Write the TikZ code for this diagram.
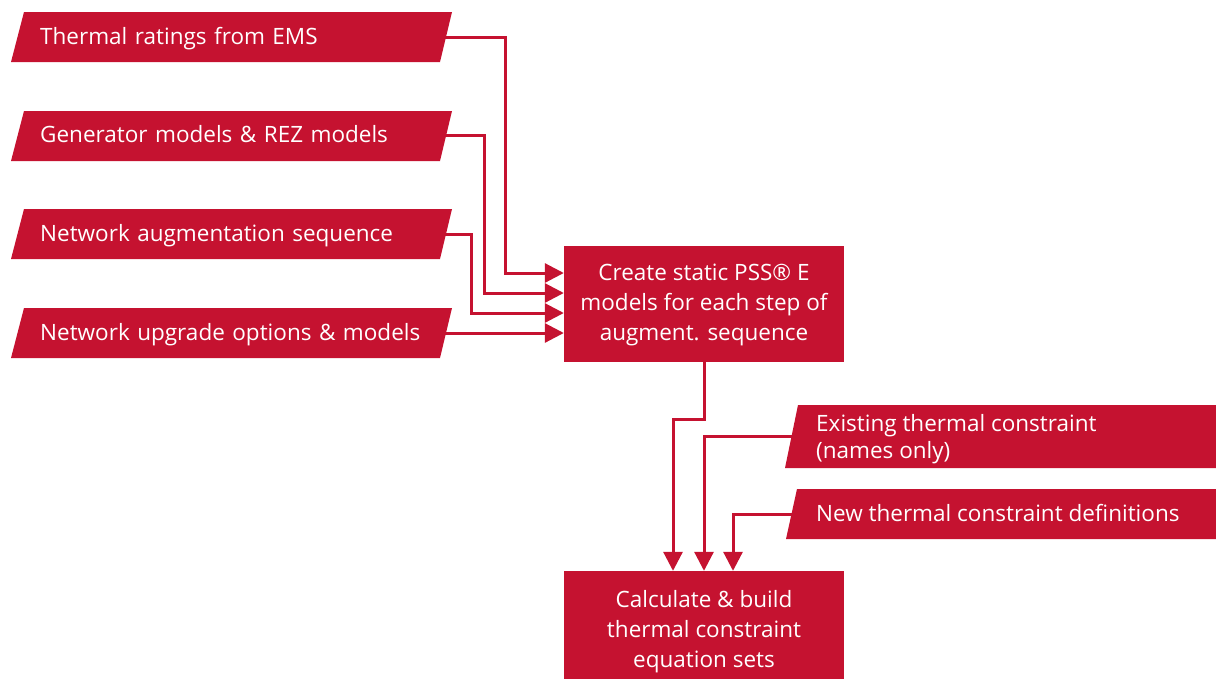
\documentclass[tikz,border=0pt]{standalone}
\usepackage{fontspec}
\setmainfont{Open Sans}
\usetikzlibrary{arrows.meta,positioning}

\definecolor{aemored}{RGB}{197,18,48}

\tikzset{
  flow/.style={draw=aemored,line width=3pt},
  inbox/.style={anchor=west,inner sep=0pt,text=white,align=left,text height=20pt,text depth=5pt,
    font=\fontsize{22.5}{27}\selectfont},
  stepbox/.style={fill=aemored,text=white,inner sep=0pt,minimum width=280pt,minimum height=116pt,
    align=center,text height=80pt,text depth=5pt,font=\fontsize{22.5}{30}\selectfont}
}

\begin{document}
\begin{tikzpicture}[x=1pt,y=-1pt,>={Triangle[length=19pt,width=19pt]}]
\useasboundingbox (0,0) rectangle (1216,678);

% input shapes on the left
\fill[aemored] (11,62) -- (24,12) -- (452,12) -- (440,62) -- cycle;
\fill[aemored] (11,161) -- (24,111) -- (452,111) -- (440,161) -- cycle;
\fill[aemored] (11,259) -- (24,209) -- (452,209) -- (440,259) -- cycle;
\fill[aemored] (11,358) -- (24,308) -- (452,308) -- (440,358) -- cycle;
\node[inbox,text width=400pt] (ems) at (40,37) {Thermal ratings from EMS};
\node[inbox,text width=400pt] (gen) at (40,135) {Generator models \& REZ models};
\node[inbox,text width=400pt] (aug) at (40,234) {Network augmentation sequence};
\node[inbox,text width=400pt] (upg) at (40,333) {Network upgrade options \& models};

% input shapes on the right
\fill[aemored] (785,468) -- (798,405) -- (1216,405) -- (1216,468) -- cycle;
\fill[aemored] (786,539) -- (797,489) -- (1216,489) -- (1216,539) -- cycle;
\node[inbox,text height=47pt,text depth=4pt] (exist) at (816,436.5) {Existing thermal constraint\\(names only)};
\node[inbox] (new) at (816,514) {New thermal constraint definitions};

% process boxes
\node[stepbox,text height=78pt] (create) at (704,303.5) {Create static PSS\textregistered\ E\\models for each step of\\augment. sequence};
\node[stepbox,text depth=4pt] (calc) at (704,629) {Calculate \& build\\thermal constraint\\equation sets};

\draw[flow,->] (ems.east) -- ++(65,0) |- ([yshift=30.5pt]create.west);
\draw[flow,->] (gen.east) -- ++(44,0) |- ([yshift=10.5pt]create.west);
\draw[flow,->] (aug.east) -- ++(31,0) |- ([yshift=-9.5pt]create.west);
\draw[flow,->] (upg.east) -- (upg.east -| create.west);

\draw[flow,->] (create.south) -- ++(0,58) -| ([xshift=-31pt]calc.north);
\draw[flow,->] (exist.west) -| (calc.north);
\draw[flow,->] (new.west) -| ([xshift=29pt]calc.north);
\end{tikzpicture}
\end{document}
